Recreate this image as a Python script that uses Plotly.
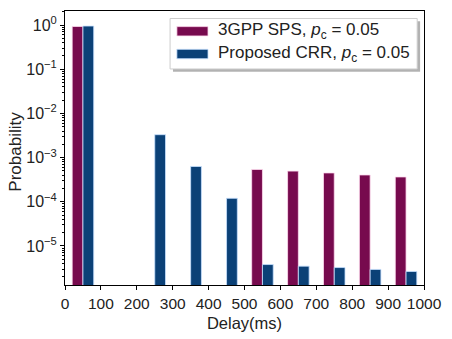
import plotly.graph_objects as go

# Data
delay_bins = [50, 150, 250, 350, 450, 550, 650, 750, 850, 950]
sps_prob = [0.93, None, None, None, None, 5.4e-4, 4.95e-4, 4.5e-4, 4.05e-4, 3.65e-4]
crr_prob = [0.95, None, 3.3e-3, 6.3e-4, 1.2e-4, 3.8e-6, 3.5e-6, 3.25e-6, 2.95e-6, 2.65e-6]
sps_name = "3GPP SPS, <i>p</i><sub>c</sub> = 0.05"
crr_name = "Proposed CRR, <i>p</i><sub>c</sub> = 0.05"
x_ticks = [0, 100, 200, 300, 400, 500, 600, 700, 800, 900, 1000]
y_ticks = [1, 1e-1, 1e-2, 1e-3, 1e-4, 1e-5]
y_ticktext = ["10<sup>0</sup>", "10<sup>−1</sup>", "10<sup>−2</sup>", "10<sup>−3</sup>",
              "10<sup>−4</sup>", "10<sup>−5</sup>"]

c_sps = "#770A4E"
c_crr = "#0B4177"
font = "Liberation Sans, Arial, sans-serif"
txt = "#222222"

minor_vals = [m * 10 ** e for e in range(-6, 1) for m in range(2, 10)]

fig = go.Figure()
fig.add_trace(go.Bar(x=delay_bins, y=sps_prob, name=sps_name, width=30, offset=-30,
                     showlegend=False,
                     marker=dict(color=c_sps, line=dict(color="rgba(255,220,240,0.8)", width=1))))
fig.add_trace(go.Bar(x=delay_bins, y=crr_prob, name=crr_name, width=30, offset=0,
                     showlegend=False,
                     marker=dict(color=c_crr, line=dict(color="rgba(200,225,255,0.8)", width=1))))

# Legend (drawn as box + patches + labels, matching matplotlib style)
L, T, W, H = 65, 10, 369, 293


def px(x):
    return (x - L) / W


def py(y):
    return (T + H - y) / H


shapes = [
    dict(type="rect", xref="paper", yref="paper", x0=px(176), x1=px(430), y0=py(75), y1=py(21),
         fillcolor="rgba(0,0,0,0.3)", line=dict(width=0), layer="above"),
    dict(type="rect", xref="paper", yref="paper", x0=px(173), x1=px(427), y0=py(72), y1=py(18),
         fillcolor="white", line=dict(color="#cccccc", width=1), layer="above"),
    dict(type="rect", xref="paper", yref="paper", x0=px(180), x1=px(212), y0=py(36.7), y1=py(26.7),
         fillcolor=c_sps, line=dict(color="rgba(255,220,240,0.8)", width=1), layer="above"),
    dict(type="rect", xref="paper", yref="paper", x0=px(180), x1=px(212), y0=py(61), y1=py(51),
         fillcolor=c_crr, line=dict(color="rgba(200,225,255,0.8)", width=1), layer="above"),
]
annotations = [
    dict(xref="paper", yref="paper", x=px(220), y=py(31.5), text=sps_name, showarrow=False,
         xanchor="left", yanchor="middle", font=dict(size=17, family=font, color=txt)),
    dict(xref="paper", yref="paper", x=px(220), y=py(56), text=crr_name, showarrow=False,
         xanchor="left", yanchor="middle", font=dict(size=17, family=font, color=txt)),
    dict(xref="paper", yref="paper", x=px(14), y=py(160), text="Probability", showarrow=False,
         textangle=-90, xanchor="center", yanchor="middle",
         font=dict(size=17, family=font, color=txt)),
]

fig.update_layout(
    width=452, height=339,
    margin=dict(l=L, r=452 - L - W, t=T, b=339 - T - H),
    plot_bgcolor="white", paper_bgcolor="white",
    font=dict(family=font, size=15, color=txt),
    barmode="overlay",
    showlegend=False,
    shapes=shapes,
    annotations=annotations,
    xaxis=dict(range=[0, 1000], tickvals=x_ticks, ticks="outside", ticklen=4,
               tickcolor="black", showline=True, linecolor="black", linewidth=1, mirror=True,
               showgrid=False, zeroline=False,
               tickfont=dict(size=15.5, family=font, color=txt),
               title=dict(text="Delay(ms)", font=dict(size=16.5, family=font, color=txt), standoff=6)),
    yaxis=dict(type="log", range=[-5.883, 0.318], tickvals=y_ticks, ticktext=y_ticktext,
               ticks="outside", ticklen=4, tickcolor="black",
               showline=True, linecolor="black", linewidth=1, mirror=True,
               showgrid=False, zeroline=False,
               minor=dict(tickvals=minor_vals, ticks="outside", ticklen=2, tickcolor="black"),
               tickfont=dict(size=16, family=font, color=txt)),
)

fig.write_html("out.html")
